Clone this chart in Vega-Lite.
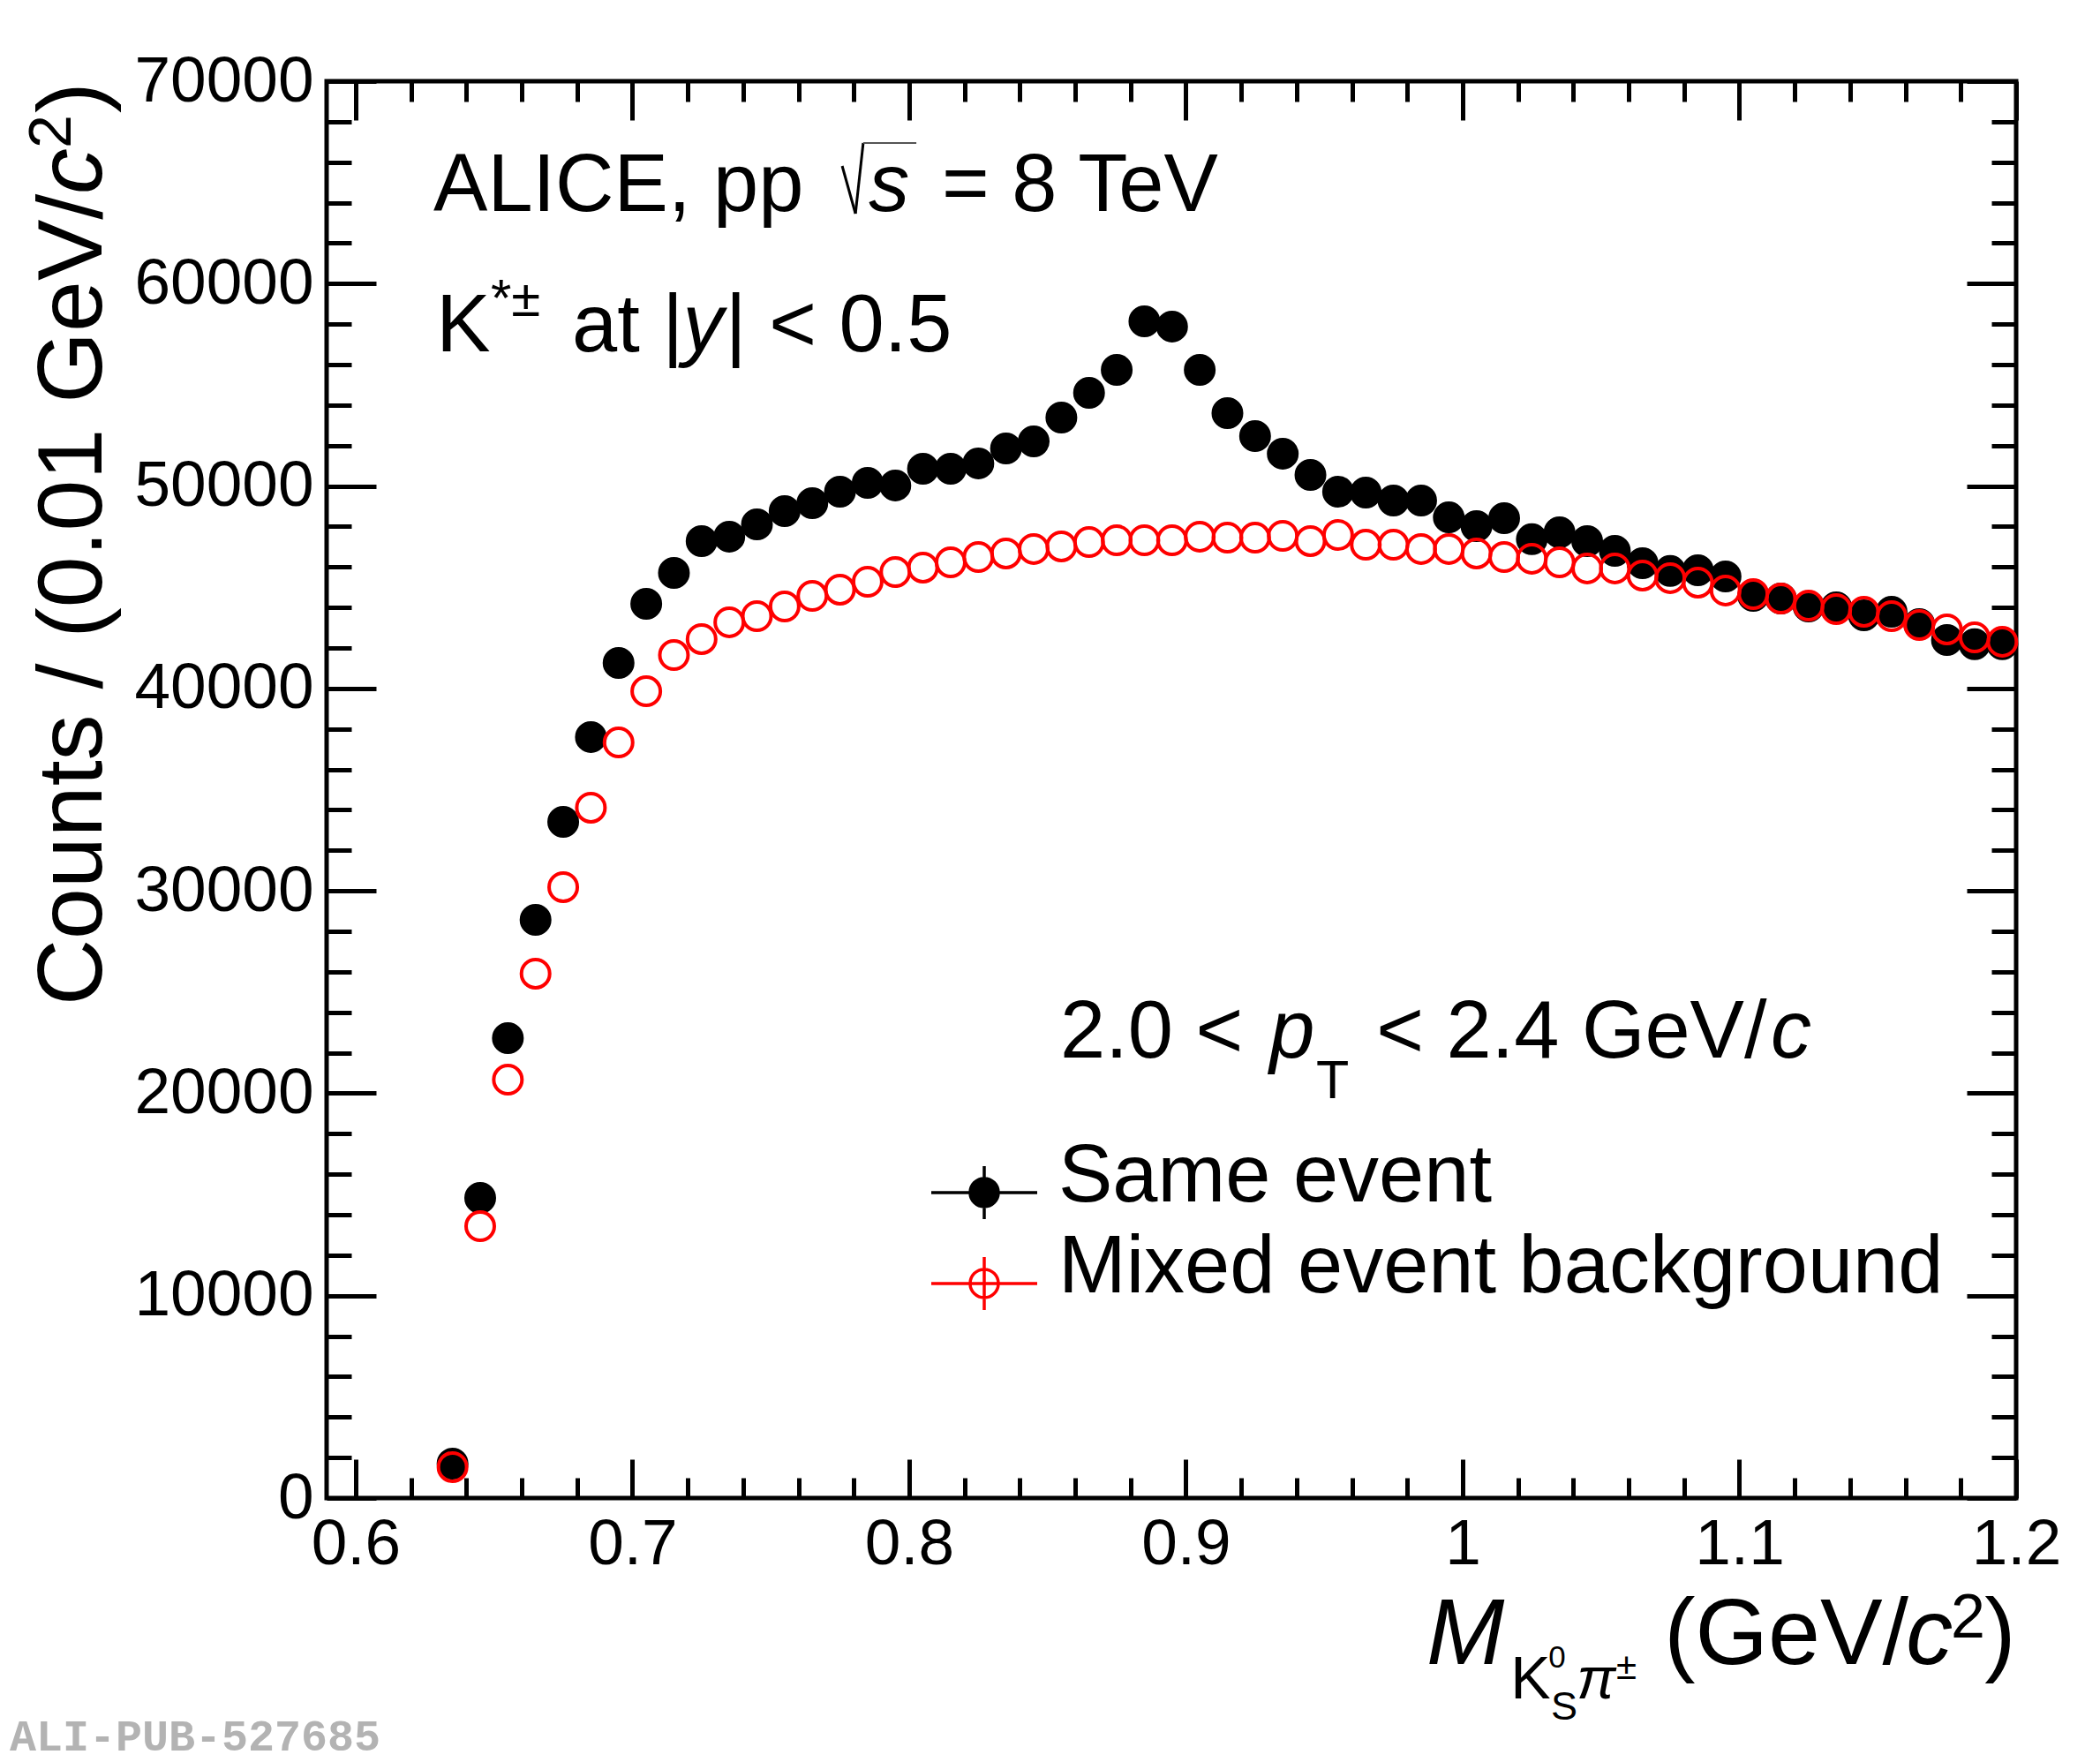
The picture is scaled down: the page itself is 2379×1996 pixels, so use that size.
{
  "$schema": "https://vega.github.io/schema/vega-lite/v6.json",
  "autosize": "none",
  "width": 1914,
  "height": 1605,
  "padding": {"left": 370, "top": 92, "right": 95, "bottom": 299},
  "background": "white",
  "config": {
    "font": "Liberation Sans",
    "view": {"stroke": "black", "strokeWidth": 5},
    "axis": {"grid": false, "domain": false, "tickColor": "black", "tickWidth": 5, "labelColor": "black", "labelFont": "Liberation Sans", "labelFontSize": 73, "labelFlush": false, "labelOverlap": false, "labelLimit": 1000, "title": null}
  },
  "data": {
    "values": [
      {"m": 0.635, "counts": 1700, "series": "Same event"},
      {"m": 0.645, "counts": 14830, "series": "Same event"},
      {"m": 0.655, "counts": 22720, "series": "Same event"},
      {"m": 0.665, "counts": 28570, "series": "Same event"},
      {"m": 0.675, "counts": 33410, "series": "Same event"},
      {"m": 0.685, "counts": 37600, "series": "Same event"},
      {"m": 0.695, "counts": 41260, "series": "Same event"},
      {"m": 0.705, "counts": 44180, "series": "Same event"},
      {"m": 0.715, "counts": 45710, "series": "Same event"},
      {"m": 0.725, "counts": 47280, "series": "Same event"},
      {"m": 0.735, "counts": 47500, "series": "Same event"},
      {"m": 0.745, "counts": 48110, "series": "Same event"},
      {"m": 0.755, "counts": 48760, "series": "Same event"},
      {"m": 0.765, "counts": 49150, "series": "Same event"},
      {"m": 0.775, "counts": 49720, "series": "Same event"},
      {"m": 0.785, "counts": 50160, "series": "Same event"},
      {"m": 0.795, "counts": 50030, "series": "Same event"},
      {"m": 0.805, "counts": 50850, "series": "Same event"},
      {"m": 0.815, "counts": 50850, "series": "Same event"},
      {"m": 0.825, "counts": 51120, "series": "Same event"},
      {"m": 0.835, "counts": 51860, "series": "Same event"},
      {"m": 0.845, "counts": 52210, "series": "Same event"},
      {"m": 0.855, "counts": 53380, "series": "Same event"},
      {"m": 0.865, "counts": 54600, "series": "Same event"},
      {"m": 0.875, "counts": 55740, "series": "Same event"},
      {"m": 0.885, "counts": 58140, "series": "Same event"},
      {"m": 0.895, "counts": 57880, "series": "Same event"},
      {"m": 0.905, "counts": 55740, "series": "Same event"},
      {"m": 0.915, "counts": 53600, "series": "Same event"},
      {"m": 0.925, "counts": 52470, "series": "Same event"},
      {"m": 0.935, "counts": 51600, "series": "Same event"},
      {"m": 0.945, "counts": 50550, "series": "Same event"},
      {"m": 0.955, "counts": 49720, "series": "Same event"},
      {"m": 0.965, "counts": 49680, "series": "Same event"},
      {"m": 0.975, "counts": 49280, "series": "Same event"},
      {"m": 0.985, "counts": 49280, "series": "Same event"},
      {"m": 0.995, "counts": 48450, "series": "Same event"},
      {"m": 1.005, "counts": 48020, "series": "Same event"},
      {"m": 1.015, "counts": 48410, "series": "Same event"},
      {"m": 1.025, "counts": 47370, "series": "Same event"},
      {"m": 1.035, "counts": 47710, "series": "Same event"},
      {"m": 1.045, "counts": 47280, "series": "Same event"},
      {"m": 1.055, "counts": 46800, "series": "Same event"},
      {"m": 1.065, "counts": 46190, "series": "Same event"},
      {"m": 1.075, "counts": 45800, "series": "Same event"},
      {"m": 1.085, "counts": 45840, "series": "Same event"},
      {"m": 1.095, "counts": 45530, "series": "Same event"},
      {"m": 1.105, "counts": 44570, "series": "Same event"},
      {"m": 1.115, "counts": 44440, "series": "Same event"},
      {"m": 1.125, "counts": 44050, "series": "Same event"},
      {"m": 1.135, "counts": 44010, "series": "Same event"},
      {"m": 1.145, "counts": 43610, "series": "Same event"},
      {"m": 1.155, "counts": 43790, "series": "Same event"},
      {"m": 1.165, "counts": 43180, "series": "Same event"},
      {"m": 1.175, "counts": 42390, "series": "Same event"},
      {"m": 1.185, "counts": 42180, "series": "Same event"},
      {"m": 1.195, "counts": 42180, "series": "Same event"},
      {"m": 0.635, "counts": 1530, "series": "Mixed event background"},
      {"m": 0.645, "counts": 13430, "series": "Mixed event background"},
      {"m": 0.655, "counts": 20670, "series": "Mixed event background"},
      {"m": 0.665, "counts": 25910, "series": "Mixed event background"},
      {"m": 0.675, "counts": 30180, "series": "Mixed event background"},
      {"m": 0.685, "counts": 34110, "series": "Mixed event background"},
      {"m": 0.695, "counts": 37330, "series": "Mixed event background"},
      {"m": 0.705, "counts": 39860, "series": "Mixed event background"},
      {"m": 0.715, "counts": 41650, "series": "Mixed event background"},
      {"m": 0.725, "counts": 42440, "series": "Mixed event background"},
      {"m": 0.735, "counts": 43270, "series": "Mixed event background"},
      {"m": 0.745, "counts": 43570, "series": "Mixed event background"},
      {"m": 0.755, "counts": 44050, "series": "Mixed event background"},
      {"m": 0.765, "counts": 44570, "series": "Mixed event background"},
      {"m": 0.775, "counts": 44880, "series": "Mixed event background"},
      {"m": 0.785, "counts": 45270, "series": "Mixed event background"},
      {"m": 0.795, "counts": 45750, "series": "Mixed event background"},
      {"m": 0.805, "counts": 45970, "series": "Mixed event background"},
      {"m": 0.815, "counts": 46230, "series": "Mixed event background"},
      {"m": 0.825, "counts": 46490, "series": "Mixed event background"},
      {"m": 0.835, "counts": 46670, "series": "Mixed event background"},
      {"m": 0.845, "counts": 46890, "series": "Mixed event background"},
      {"m": 0.855, "counts": 47020, "series": "Mixed event background"},
      {"m": 0.865, "counts": 47230, "series": "Mixed event background"},
      {"m": 0.875, "counts": 47320, "series": "Mixed event background"},
      {"m": 0.885, "counts": 47320, "series": "Mixed event background"},
      {"m": 0.895, "counts": 47320, "series": "Mixed event background"},
      {"m": 0.905, "counts": 47500, "series": "Mixed event background"},
      {"m": 0.915, "counts": 47450, "series": "Mixed event background"},
      {"m": 0.925, "counts": 47450, "series": "Mixed event background"},
      {"m": 0.935, "counts": 47540, "series": "Mixed event background"},
      {"m": 0.945, "counts": 47280, "series": "Mixed event background"},
      {"m": 0.955, "counts": 47580, "series": "Mixed event background"},
      {"m": 0.965, "counts": 47100, "series": "Mixed event background"},
      {"m": 0.975, "counts": 47100, "series": "Mixed event background"},
      {"m": 0.985, "counts": 46890, "series": "Mixed event background"},
      {"m": 0.995, "counts": 46890, "series": "Mixed event background"},
      {"m": 1.005, "counts": 46670, "series": "Mixed event background"},
      {"m": 1.015, "counts": 46490, "series": "Mixed event background"},
      {"m": 1.025, "counts": 46410, "series": "Mixed event background"},
      {"m": 1.035, "counts": 46230, "series": "Mixed event background"},
      {"m": 1.045, "counts": 45930, "series": "Mixed event background"},
      {"m": 1.055, "counts": 45930, "series": "Mixed event background"},
      {"m": 1.065, "counts": 45580, "series": "Mixed event background"},
      {"m": 1.075, "counts": 45450, "series": "Mixed event background"},
      {"m": 1.085, "counts": 45230, "series": "Mixed event background"},
      {"m": 1.095, "counts": 44840, "series": "Mixed event background"},
      {"m": 1.105, "counts": 44660, "series": "Mixed event background"},
      {"m": 1.115, "counts": 44440, "series": "Mixed event background"},
      {"m": 1.125, "counts": 44090, "series": "Mixed event background"},
      {"m": 1.135, "counts": 43920, "series": "Mixed event background"},
      {"m": 1.145, "counts": 43790, "series": "Mixed event background"},
      {"m": 1.155, "counts": 43570, "series": "Mixed event background"},
      {"m": 1.165, "counts": 43130, "series": "Mixed event background"},
      {"m": 1.175, "counts": 42920, "series": "Mixed event background"},
      {"m": 1.185, "counts": 42520, "series": "Mixed event background"},
      {"m": 1.195, "counts": 42310, "series": "Mixed event background"}
    ]
  },
  "resolve": {"axis": {"x": "independent", "y": "independent"}},
  "layer": [
    {
      "mark": {"type": "point", "shape": "circle", "size": 1024, "strokeWidth": 4, "opacity": 1},
      "encoding": {
        "x": {
          "field": "m", "type": "quantitative",
          "scale": {"domain": [0.5895, 1.2], "nice": false, "zero": false},
          "axis": {"orient": "bottom", "values": [0.6, 0.7, 0.8, 0.9, 1, 1.1, 1.2], "format": "~g", "ticks": false, "labelPadding": 16}
        },
        "y": {
          "field": "counts", "type": "quantitative",
          "scale": {"domain": [0, 70000], "nice": false, "zero": false},
          "axis": {"orient": "left", "values": [0, 10000, 20000, 30000, 40000, 50000, 60000, 70000], "format": "d", "ticks": false, "labelPadding": 15}
        },
        "fill": {
          "field": "series", "type": "nominal",
          "scale": {"domain": ["Same event", "Mixed event background"], "range": ["black", "transparent"]},
          "legend": {"title": null, "orient": "none", "legendX": 699, "legendY": 1223, "padding": 0, "symbolType": "M -3.75 -0.63 L 3.75 -0.63 M 0 -2.5 L 0 1.25 M 1 -0.63 A 1 1 0 1 1 -1 -0.63 A 1 1 0 1 1 1 -0.63 Z", "symbolSize": 1024, "symbolStrokeWidth": 3.5, "labelFont": "Liberation Sans", "labelFontSize": 92, "labelColor": "black", "labelBaseline": "alphabetic", "labelOffset": 38, "labelLimit": 2000, "rowPadding": 2}
        },
        "stroke": {
          "field": "series", "type": "nominal",
          "scale": {"domain": ["Same event", "Mixed event background"], "range": ["black", "#ff0000"]},
          "legend": {"title": null, "orient": "none", "legendX": 699, "legendY": 1223, "padding": 0, "symbolType": "M -3.75 -0.63 L 3.75 -0.63 M 0 -2.5 L 0 1.25 M 1 -0.63 A 1 1 0 1 1 -1 -0.63 A 1 1 0 1 1 1 -0.63 Z", "symbolSize": 1024, "symbolStrokeWidth": 3.5, "labelFont": "Liberation Sans", "labelFontSize": 92, "labelColor": "black", "labelBaseline": "alphabetic", "labelOffset": 38, "labelLimit": 2000, "rowPadding": 2}
        }
      }
    },
    {
      "mark": {"type": "point", "opacity": 0},
      "encoding": {
        "x": {"field": "m", "type": "quantitative", "axis": {"orient": "bottom", "values": [0.6, 0.7, 0.8, 0.9, 1, 1.1, 1.2], "labels": false, "tickSize": -44}},
        "y": {"field": "counts", "type": "quantitative", "axis": {"orient": "left", "values": [0, 10000, 20000, 30000, 40000, 50000, 60000, 70000], "labels": false, "tickSize": -56}}
      }
    },
    {
      "mark": {"type": "point", "opacity": 0},
      "encoding": {
        "x": {"field": "m", "type": "quantitative", "axis": {"orient": "bottom", "values": [0.62, 0.64, 0.66, 0.68, 0.72, 0.74, 0.76, 0.78, 0.82, 0.84, 0.86, 0.88, 0.92, 0.94, 0.96, 0.98, 1.02, 1.04, 1.06, 1.08, 1.12, 1.14, 1.16, 1.18], "labels": false, "tickSize": -23}},
        "y": {"field": "counts", "type": "quantitative", "axis": {"orient": "left", "values": [2000, 4000, 6000, 8000, 12000, 14000, 16000, 18000, 22000, 24000, 26000, 28000, 32000, 34000, 36000, 38000, 42000, 44000, 46000, 48000, 52000, 54000, 56000, 58000, 62000, 64000, 66000, 68000], "labels": false, "tickSize": -28}}
      }
    },
    {
      "mark": {"type": "point", "opacity": 0},
      "encoding": {
        "x": {"field": "m", "type": "quantitative", "axis": {"orient": "top", "values": [0.6, 0.7, 0.8, 0.9, 1, 1.1, 1.2], "labels": false, "tickSize": -44}},
        "y": {"field": "counts", "type": "quantitative", "axis": {"orient": "right", "values": [0, 10000, 20000, 30000, 40000, 50000, 60000, 70000], "labels": false, "tickSize": -56}}
      }
    },
    {
      "mark": {"type": "point", "opacity": 0},
      "encoding": {
        "x": {"field": "m", "type": "quantitative", "axis": {"orient": "top", "values": [0.62, 0.64, 0.66, 0.68, 0.72, 0.74, 0.76, 0.78, 0.82, 0.84, 0.86, 0.88, 0.92, 0.94, 0.96, 0.98, 1.02, 1.04, 1.06, 1.08, 1.12, 1.14, 1.16, 1.18], "labels": false, "tickSize": -23}},
        "y": {"field": "counts", "type": "quantitative", "axis": {"orient": "right", "values": [2000, 4000, 6000, 8000, 12000, 14000, 16000, 18000, 22000, 24000, 26000, 28000, 32000, 34000, 36000, 38000, 42000, 44000, 46000, 48000, 52000, 54000, 56000, 58000, 62000, 64000, 66000, 68000], "labels": false, "tickSize": -28}}
      }
    },
    {
      "data": {"values": [{}]},
      "mark": {"type": "text", "align": "left", "baseline": "alphabetic", "fontSize": 92},
      "encoding": {"x": {"datum": 0.6281, "type": "quantitative", "axis": null}, "y": {"datum": 63589, "type": "quantitative", "axis": null}, "text": {"value": "ALICE, pp"}}
    },
    {
      "data": {"values": [{}]},
      "mark": {"type": "rule", "strokeWidth": 3, "color": "black"},
      "encoding": {"x": {"datum": 0.7758, "type": "quantitative", "axis": null}, "y": {"datum": 65814, "type": "quantitative", "axis": null}, "x2": {"datum": 0.7806}, "y2": {"datum": 63458}}
    },
    {
      "data": {"values": [{}]},
      "mark": {"type": "rule", "strokeWidth": 3, "color": "black"},
      "encoding": {"x": {"datum": 0.7806, "type": "quantitative", "axis": null}, "y": {"datum": 63458, "type": "quantitative", "axis": null}, "x2": {"datum": 0.7834}, "y2": {"datum": 66948}}
    },
    {
      "data": {"values": [{}]},
      "mark": {"type": "rule", "strokeWidth": 2, "color": "#555555"},
      "encoding": {"x": {"datum": 0.7834, "type": "quantitative", "axis": null}, "y": {"datum": 66948, "type": "quantitative", "axis": null}, "x2": {"datum": 0.8026}}
    },
    {
      "data": {"values": [{}]},
      "mark": {"type": "text", "align": "left", "baseline": "alphabetic", "fontSize": 92, "fontStyle": "italic"},
      "encoding": {"x": {"datum": 0.7854, "type": "quantitative", "axis": null}, "y": {"datum": 63589, "type": "quantitative", "axis": null}, "text": {"value": "s"}}
    },
    {
      "data": {"values": [{}]},
      "mark": {"type": "text", "align": "left", "baseline": "alphabetic", "fontSize": 92},
      "encoding": {"x": {"datum": 0.8118, "type": "quantitative", "axis": null}, "y": {"datum": 63589, "type": "quantitative", "axis": null}, "text": {"value": "= 8 TeV"}}
    },
    {
      "data": {"values": [{}]},
      "mark": {"type": "text", "align": "left", "baseline": "alphabetic", "fontSize": 92},
      "encoding": {"x": {"datum": 0.6291, "type": "quantitative", "axis": null}, "y": {"datum": 56655, "type": "quantitative", "axis": null}, "text": {"value": "K"}}
    },
    {
      "data": {"values": [{}]},
      "mark": {"type": "text", "align": "left", "baseline": "alphabetic", "fontSize": 60},
      "encoding": {"x": {"datum": 0.6488, "type": "quantitative", "axis": null}, "y": {"datum": 58399, "type": "quantitative", "axis": null}, "text": {"value": "*±"}}
    },
    {
      "data": {"values": [{}]},
      "mark": {"type": "text", "align": "left", "baseline": "alphabetic", "fontSize": 92},
      "encoding": {"x": {"datum": 0.6782, "type": "quantitative", "axis": null}, "y": {"datum": 56655, "type": "quantitative", "axis": null}, "text": {"value": "at |"}}
    },
    {
      "data": {"values": [{}]},
      "mark": {"type": "text", "align": "left", "baseline": "alphabetic", "fontSize": 92, "fontStyle": "italic"},
      "encoding": {"x": {"datum": 0.7182, "type": "quantitative", "axis": null}, "y": {"datum": 56655, "type": "quantitative", "axis": null}, "text": {"value": "y"}}
    },
    {
      "data": {"values": [{}]},
      "mark": {"type": "text", "align": "left", "baseline": "alphabetic", "fontSize": 92},
      "encoding": {"x": {"datum": 0.7336, "type": "quantitative", "axis": null}, "y": {"datum": 56655, "type": "quantitative", "axis": null}, "text": {"value": "| < 0.5"}}
    },
    {
      "data": {"values": [{}]},
      "mark": {"type": "text", "align": "left", "baseline": "alphabetic", "fontSize": 92},
      "encoding": {"x": {"datum": 0.8546, "type": "quantitative", "axis": null}, "y": {"datum": 21763, "type": "quantitative", "axis": null}, "text": {"value": "2.0 <"}}
    },
    {
      "data": {"values": [{}]},
      "mark": {"type": "text", "align": "left", "baseline": "alphabetic", "fontSize": 92, "fontStyle": "italic"},
      "encoding": {"x": {"datum": 0.9302, "type": "quantitative", "axis": null}, "y": {"datum": 21763, "type": "quantitative", "axis": null}, "text": {"value": "p"}}
    },
    {
      "data": {"values": [{}]},
      "mark": {"type": "text", "align": "left", "baseline": "alphabetic", "fontSize": 61},
      "encoding": {"x": {"datum": 0.9471, "type": "quantitative", "axis": null}, "y": {"datum": 19757, "type": "quantitative", "axis": null}, "text": {"value": "T"}}
    },
    {
      "data": {"values": [{}]},
      "mark": {"type": "text", "align": "left", "baseline": "alphabetic", "fontSize": 92},
      "encoding": {"x": {"datum": 0.9688, "type": "quantitative", "axis": null}, "y": {"datum": 21763, "type": "quantitative", "axis": null}, "text": {"value": "< 2.4 GeV/"}}
    },
    {
      "data": {"values": [{}]},
      "mark": {"type": "text", "align": "left", "baseline": "alphabetic", "fontSize": 92, "fontStyle": "italic"},
      "encoding": {"x": {"datum": 1.1113, "type": "quantitative", "axis": null}, "y": {"datum": 21763, "type": "quantitative", "axis": null}, "text": {"value": "c"}}
    },
    {
      "data": {"values": [{}]},
      "mark": {"type": "text", "align": "left", "baseline": "alphabetic", "fontSize": 106, "fontStyle": "italic"},
      "encoding": {"x": {"datum": 0.9869, "type": "quantitative", "axis": null}, "y": {"datum": -8199, "type": "quantitative", "axis": null}, "text": {"value": "M"}}
    },
    {
      "data": {"values": [{}]},
      "mark": {"type": "text", "align": "left", "baseline": "alphabetic", "fontSize": 68},
      "encoding": {"x": {"datum": 1.0173, "type": "quantitative", "axis": null}, "y": {"datum": -9900, "type": "quantitative", "axis": null}, "text": {"value": "K"}}
    },
    {
      "data": {"values": [{}]},
      "mark": {"type": "text", "align": "left", "baseline": "alphabetic", "fontSize": 35},
      "encoding": {"x": {"datum": 1.031, "type": "quantitative", "axis": null}, "y": {"datum": -8374, "type": "quantitative", "axis": null}, "text": {"value": "0"}}
    },
    {
      "data": {"values": [{}]},
      "mark": {"type": "text", "align": "left", "baseline": "alphabetic", "fontSize": 45},
      "encoding": {"x": {"datum": 1.0319, "type": "quantitative", "axis": null}, "y": {"datum": -10947, "type": "quantitative", "axis": null}, "text": {"value": "S"}}
    },
    {
      "data": {"values": [{}]},
      "mark": {"type": "text", "align": "left", "baseline": "alphabetic", "fontSize": 66, "fontStyle": "italic"},
      "encoding": {"x": {"datum": 1.0412, "type": "quantitative", "axis": null}, "y": {"datum": -9900, "type": "quantitative", "axis": null}, "text": {"value": "π"}}
    },
    {
      "data": {"values": [{}]},
      "mark": {"type": "text", "align": "left", "baseline": "alphabetic", "fontSize": 42},
      "encoding": {"x": {"datum": 1.0555, "type": "quantitative", "axis": null}, "y": {"datum": -8941, "type": "quantitative", "axis": null}, "text": {"value": "±"}}
    },
    {
      "data": {"values": [{}]},
      "mark": {"type": "text", "align": "left", "baseline": "alphabetic", "fontSize": 106},
      "encoding": {"x": {"datum": 1.0728, "type": "quantitative", "axis": null}, "y": {"datum": -8199, "type": "quantitative", "axis": null}, "text": {"value": "(GeV/"}}
    },
    {
      "data": {"values": [{}]},
      "mark": {"type": "text", "align": "left", "baseline": "alphabetic", "fontSize": 106, "fontStyle": "italic"},
      "encoding": {"x": {"datum": 1.1602, "type": "quantitative", "axis": null}, "y": {"datum": -8199, "type": "quantitative", "axis": null}, "text": {"value": "c"}}
    },
    {
      "data": {"values": [{}]},
      "mark": {"type": "text", "align": "left", "baseline": "alphabetic", "fontSize": 70},
      "encoding": {"x": {"datum": 1.1764, "type": "quantitative", "axis": null}, "y": {"datum": -6891, "type": "quantitative", "axis": null}, "text": {"value": "2"}}
    },
    {
      "data": {"values": [{}]},
      "mark": {"type": "text", "align": "left", "baseline": "alphabetic", "fontSize": 106},
      "encoding": {"x": {"datum": 1.1886, "type": "quantitative", "axis": null}, "y": {"datum": -8199, "type": "quantitative", "axis": null}, "text": {"value": ")"}}
    },
    {
      "data": {"values": [{}]},
      "mark": {"type": "text", "align": "left", "baseline": "alphabetic", "fontSize": 104, "angle": 270},
      "encoding": {"x": {"datum": 0.5082, "type": "quantitative", "axis": null}, "y": {"datum": 24337, "type": "quantitative", "axis": null}, "text": {"value": "Counts / (0.01 GeV/"}}
    },
    {
      "data": {"values": [{}]},
      "mark": {"type": "text", "align": "left", "baseline": "alphabetic", "fontSize": 104, "angle": 270, "fontStyle": "italic"},
      "encoding": {"x": {"datum": 0.5082, "type": "quantitative", "axis": null}, "y": {"datum": 64418, "type": "quantitative", "axis": null}, "text": {"value": "c"}}
    },
    {
      "data": {"values": [{}]},
      "mark": {"type": "text", "align": "left", "baseline": "alphabetic", "fontSize": 68, "angle": 270},
      "encoding": {"x": {"datum": 0.497, "type": "quantitative", "axis": null}, "y": {"datum": 66686, "type": "quantitative", "axis": null}, "text": {"value": "2"}}
    },
    {
      "data": {"values": [{}]},
      "mark": {"type": "text", "align": "left", "baseline": "alphabetic", "fontSize": 104, "angle": 270},
      "encoding": {"x": {"datum": 0.5082, "type": "quantitative", "axis": null}, "y": {"datum": 68430, "type": "quantitative", "axis": null}, "text": {"value": ")"}}
    },
    {
      "data": {"values": [{}]},
      "mark": {"type": "text", "align": "left", "baseline": "alphabetic", "fontSize": 50, "font": "Liberation Mono", "fontWeight": "bold", "color": "#b3b3b3"},
      "encoding": {"x": {"datum": 0.475, "type": "quantitative", "axis": null}, "y": {"datum": -12474, "type": "quantitative", "axis": null}, "text": {"value": "ALI-PUB-527685"}}
    }
  ]
}
